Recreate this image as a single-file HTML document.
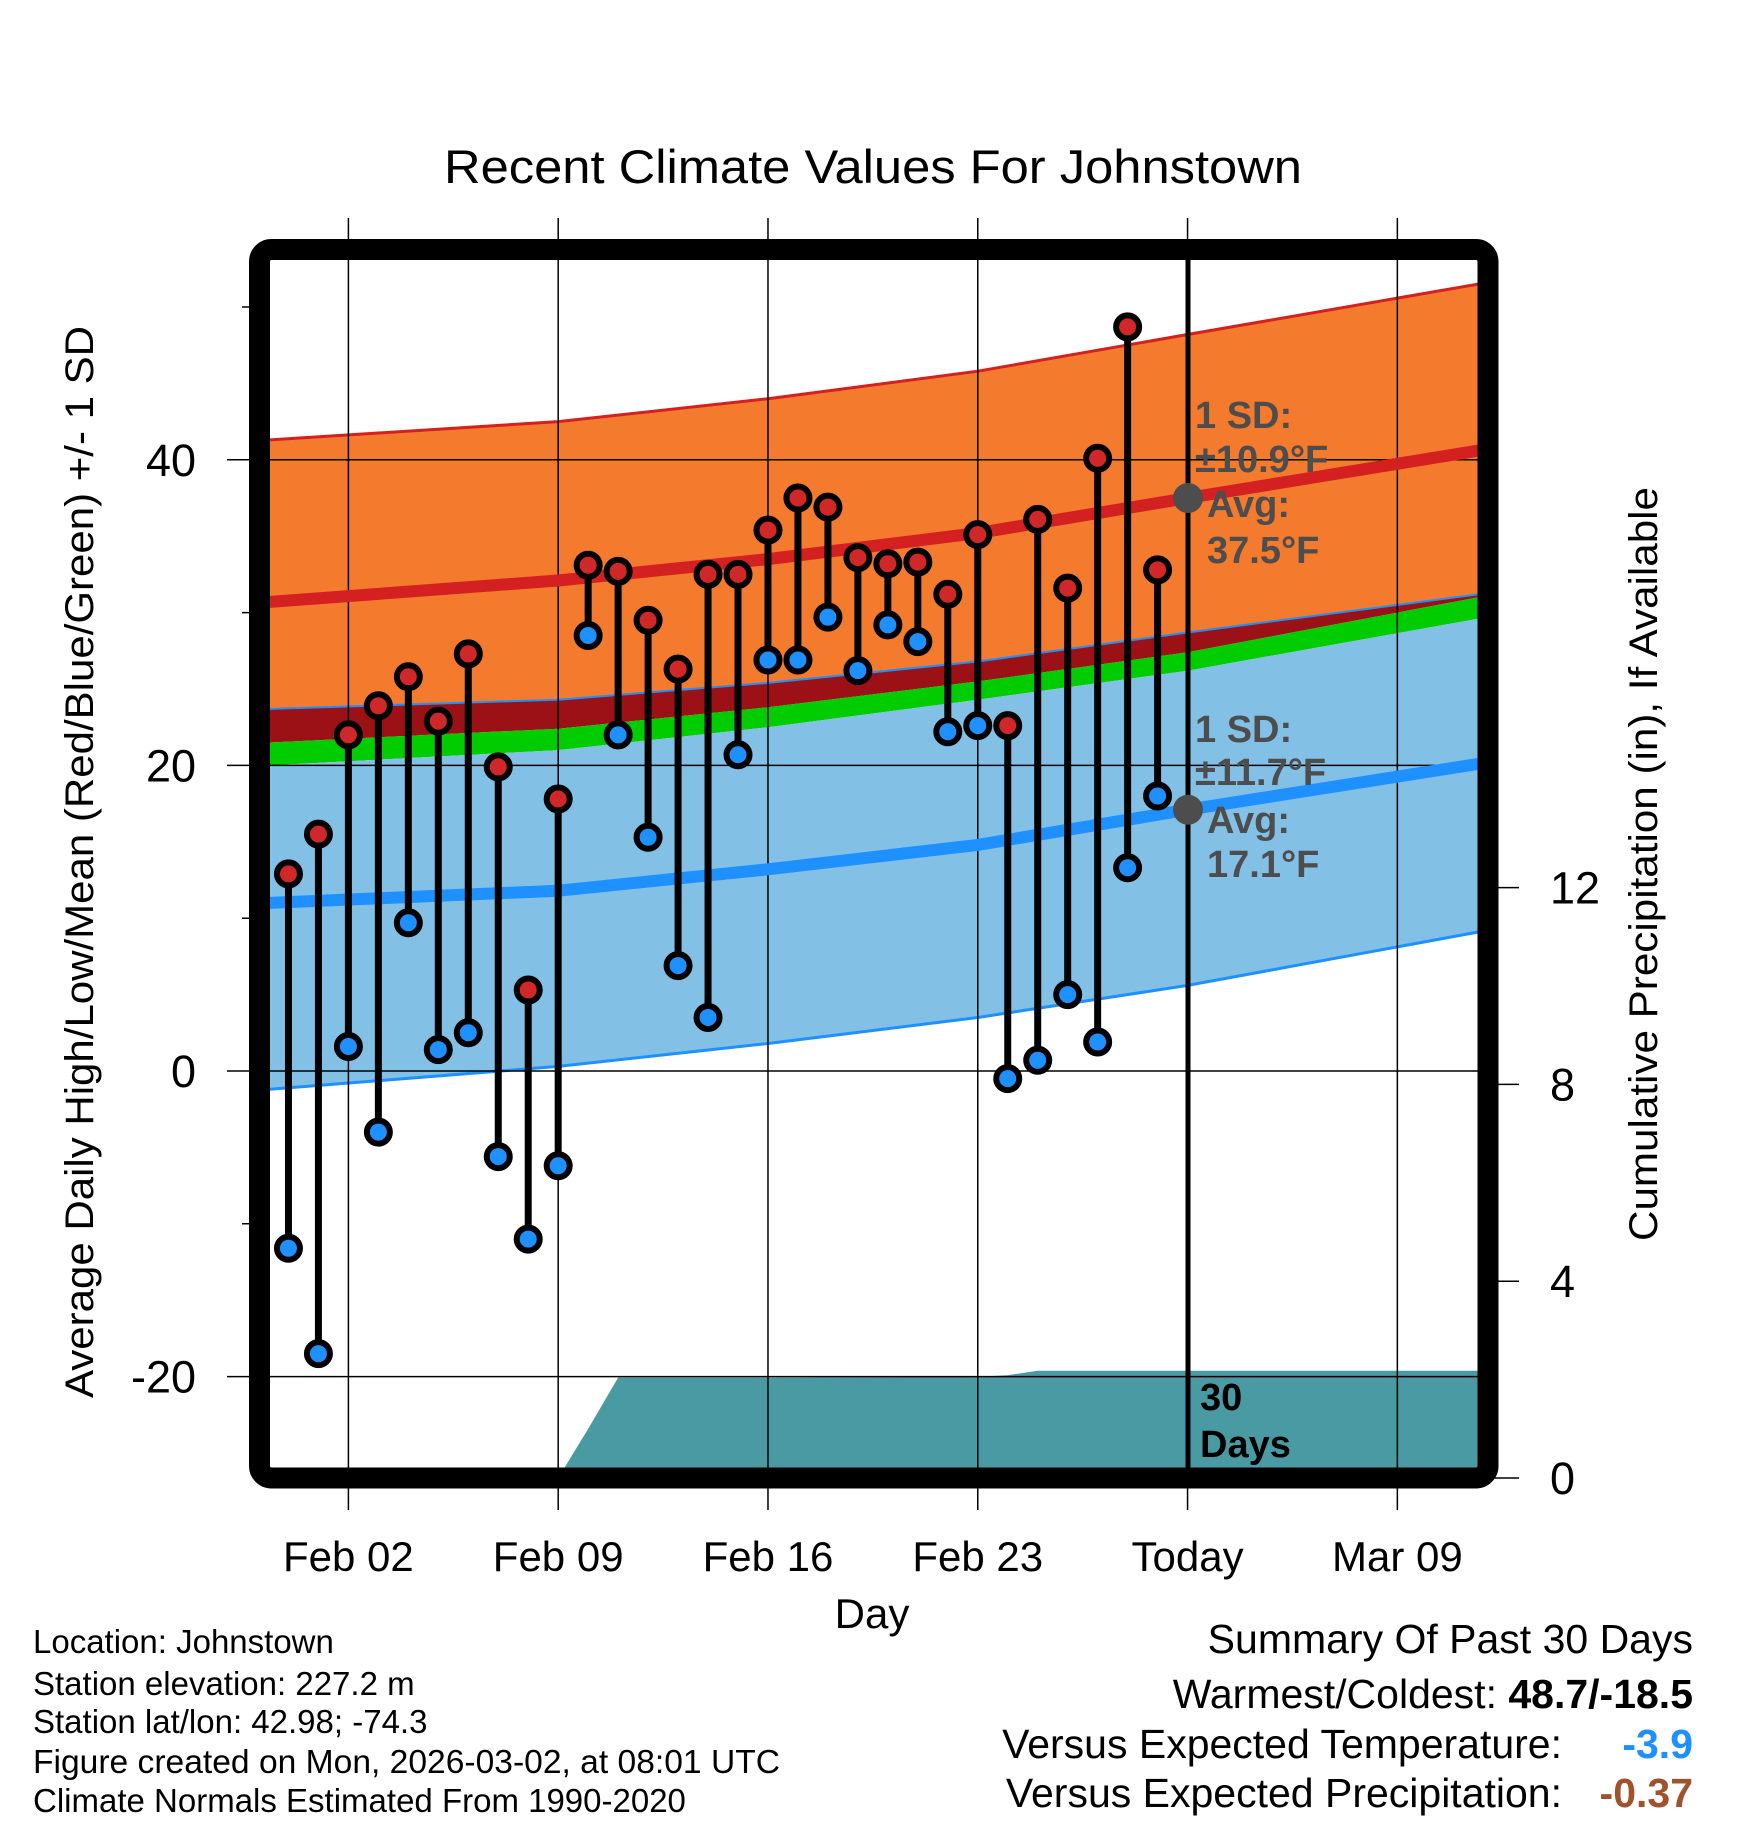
<!DOCTYPE html>
<html><head><meta charset="utf-8"><style>
html,body{margin:0;padding:0;background:#fff}
svg{display:block;font-family:"Liberation Sans",Arial,sans-serif}
</style></head><body>
<svg id="chart" width="1748" height="1828" viewBox="0 0 1748 1828" xmlns="http://www.w3.org/2000/svg">
<defs><clipPath id="plotclip"><rect x="270" y="260" width="1208" height="1208"/></clipPath></defs>
<g id="bands" clip-path="url(#plotclip)"></g>
<g id="grid"></g>
<g id="lines" clip-path="url(#plotclip)"></g>
<g id="marks"></g>
<line x1="1188" y1="260" x2="1188" y2="1468" stroke="#000" stroke-width="5"/>
<g id="annot"></g>
<rect x="259.5" y="249.5" width="1228.5" height="1228.5" rx="12" fill="none" stroke="#000" stroke-width="21"/>
<text x="873" y="183" text-anchor="middle" font-size="47" textLength="858" lengthAdjust="spacingAndGlyphs">Recent Climate Values For Johnstown</text>
<text x="872" y="1628" text-anchor="middle" font-size="42">Day</text>
<text transform="translate(93,862) rotate(-90)" text-anchor="middle" font-size="40" textLength="1072" lengthAdjust="spacingAndGlyphs">Average Daily High/Low/Mean (Red/Blue/Green) +/- 1 SD</text>
<text transform="translate(1657,864) rotate(-90)" text-anchor="middle" font-size="40" textLength="754" lengthAdjust="spacingAndGlyphs">Cumulative Precipitation (in), If Available</text>
<g font-size="33">
<text x="33" y="1653">Location: Johnstown</text>
<text x="33" y="1695">Station elevation: 227.2 m</text>
<text x="33" y="1733">Station lat/lon: 42.98; -74.3</text>
<text x="33" y="1773" textLength="747" lengthAdjust="spacingAndGlyphs">Figure created on Mon, 2026-03-02, at 08:01 UTC</text>
<text x="33" y="1812">Climate Normals Estimated From 1990-2020</text>
</g>
<g font-size="41">
<text x="1693" y="1653" text-anchor="end">Summary Of Past 30 Days</text>
<text x="1693" y="1708" text-anchor="end">Warmest/Coldest: <tspan font-weight="bold">48.7/-18.5</tspan></text>
<text x="1562" y="1758" text-anchor="end">Versus Expected Temperature:</text>
<text x="1693" y="1758" text-anchor="end" font-weight="bold" fill="#1e90ff">-3.9</text>
<text x="1562" y="1807" text-anchor="end">Versus Expected Precipitation:</text>
<text x="1693" y="1807" text-anchor="end" font-weight="bold" fill="#a0522d">-0.37</text>
</g>
</svg>
<script>
// ---- data ----
const days = [-1,0,1,2,3,4,5,6,7,8,9,10,11,12,13,14,15,16,17,18,19,20,21,22,23,24,25,26,27,28];
const highs = [12.9,15.5,22.0,23.9,25.8,22.9,27.3,19.9,5.3,17.8,33.1,32.7,29.5,26.3,32.5,32.5,35.4,37.5,36.9,33.6,33.2,33.3,31.2,35.1,22.6,36.1,31.6,40.1,48.7,32.8];
const lows = [-11.6,-18.5,1.6,-4.0,9.7,1.4,2.5,-5.6,-11.0,-6.2,28.5,22.0,15.3,6.9,3.5,20.7,26.9,26.9,29.7,26.2,29.2,28.1,22.2,22.6,-0.5,0.7,5.0,1.9,13.3,18.0];
const normDays = [-1.62,8,15,22,29,38.7];
const highTop = [41.3,42.5,44.0,45.8,48.2,51.5];
const highMean = [30.7,32.1,33.5,35.2,37.5,40.6];
const highBottom = [23.7,24.3,25.4,26.8,28.7,31.2];
const greenTop = [21.5,22.4,23.8,25.5,27.4,31.0];
const lowTop = [20.0,21.0,22.5,24.3,26.2,29.6];
const lowMean = [11.0,11.8,13.2,14.8,17.1,20.1];
const lowBottom = [-1.2,0.3,1.8,3.5,5.6,9.1];
const precipDays = [8,9,10,16,22,23,24,28,38.7];
const precipCum = [0,1.0,2.04,2.04,2.06,2.09,2.18,2.18,2.18];
const yTicks = [-20,0,20,40];
const yMinor = [-10,10,30,50];
const y2Ticks = [0,4,8,12];
const xTickDays = [1,8,15,22,29,36];
const xTickLabels = ["Feb 02","Feb 09","Feb 16","Feb 23","Today","Mar 09"];
// ---- axes ----
const X = d => 348.4 + 29.97*(d-1);
const Y = t => 1071 - 15.28*t;
const P = p => 1478 - 49.2*p;
const NS = "http://www.w3.org/2000/svg";
function mk(tag, attrs, parent){const e=document.createElementNS(NS,tag);for(const k in attrs)e.setAttribute(k,attrs[k]);parent.appendChild(e);return e;}
function pts(ds, vs, f){return ds.map((d,i)=>X(d).toFixed(1)+","+f(vs[i]).toFixed(1));}
function band(top, bot, fill, parent, name){
  const p = pts(normDays, top, Y).concat(pts(normDays, bot, Y).reverse());
  const e = mk('polygon',{points:p.join(' '),fill:fill},parent);
  
  
}
const bands = document.getElementById('bands');
band(highTop, highBottom, '#f47a2e', bands, 'high-sd-band');
band(highBottom, greenTop, '#9b1115', bands, 'overlap-band');
band(greenTop, lowTop, '#00cc00', bands, 'mean-band');
band(lowTop, lowBottom, '#82c0e6', bands, 'low-sd-band');
function pl(vs, color, w, parent, name){
  const e = mk('polyline',{points:pts(normDays, vs, Y).join(' '),fill:'none',stroke:color,'stroke-width':w,'stroke-linejoin':'round'},parent);
  
  
}
pl(highTop,'#d42020',3,bands,'high-sd-top-line');
pl(highBottom,'#1e90ff',2,bands,'high-sd-bottom-line');
pl(lowBottom,'#1e90ff',3,bands,'low-sd-bottom-line');
// precip
{
  const p = pts(precipDays, precipCum, P);
  p.push(X(precipDays[precipDays.length-1]).toFixed(1)+","+P(0));
  p.push(X(precipDays[0]).toFixed(1)+","+P(0));
  const e = mk('polygon',{points:p.join(' '),fill:'#4a9aa3'},bands);
  
  
}
// grid
const grid = document.getElementById('grid');
yTicks.forEach(t=>{
  const l = mk('line',{x1:227,x2:1478,y1:Y(t),y2:Y(t),stroke:'#000','stroke-width':1.5},grid);
  
  
  const tx = mk('text',{x:196,y:Y(t)+16,'text-anchor':'end','font-size':45},grid);
  tx.textContent = t;
  
  
});
yMinor.forEach(t=>{
  const l = mk('line',{x1:242,x2:260,y1:Y(t),y2:Y(t),stroke:'#000','stroke-width':1.5},grid);
  
  
});
y2Ticks.forEach(p=>{
  const l = mk('line',{x1:1488,x2:1519,y1:P(p),y2:P(p),stroke:'#000','stroke-width':1.5},grid);
  
  
  const tx = mk('text',{x:1550,y:P(p)+16,'font-size':45},grid);
  tx.textContent = p;
  
  
});
xTickDays.forEach((d,i)=>{
  const l = mk('line',{x1:X(d),x2:X(d),y1:218,y2:1510,stroke:'#000','stroke-width':1.5},grid);
  
  
  const tx = mk('text',{x:X(d),y:1571,'text-anchor':'middle','font-size':42},grid);
  tx.textContent = xTickLabels[i];
  
  
});
// avg lines
const lines = document.getElementById('lines');
pl(highMean,'#d42020',12,lines,'avg-high-line');
pl(lowMean,'#1e90ff',12,lines,'avg-low-line');
// marks
const marks = document.getElementById('marks');
days.forEach((d,i)=>{
  const x = X(d);
  const s = mk('line',{x1:x,x2:x,y1:Y(highs[i]),y2:Y(lows[i]),stroke:'#000','stroke-width':7},marks);
  
  
  const h = mk('circle',{cx:x,cy:Y(highs[i]),r:11.5,fill:'#d02828',stroke:'#000','stroke-width':6},marks);
  
  
  const lo = mk('circle',{cx:x,cy:Y(lows[i]),r:11.5,fill:'#1e90ff',stroke:'#000','stroke-width':6},marks);
  
  
});
// annotations
const an = document.getElementById('annot');
function txt(x,y,s,name,size,col){
  const t = mk('text',{x:x,y:y,'font-size':size||38,'font-weight':'bold',fill:col||'#4d4d4d'},an);
  t.textContent = s;
  
  
}
const c1 = mk('circle',{cx:1188,cy:Y(37.5),r:15,fill:'#4d4d4d'},an);


const c2 = mk('circle',{cx:1188,cy:Y(17.1),r:15,fill:'#4d4d4d'},an);


txt(1195,428,'1 SD:','high-sd-label');
txt(1195,472,'±10.9°F','high-sd-value');
txt(1207,517,'Avg:','high-avg-label');
txt(1207,563,'37.5°F','high-avg-value');
txt(1195,742,'1 SD:','low-sd-label');
txt(1195,785,'±11.7°F','low-sd-value');
txt(1207,833,'Avg:','low-avg-label');
txt(1207,877,'17.1°F','low-avg-value');
txt(1200,1410,'30','days-count',38,'#000');
txt(1200,1457,'Days','days-label',38,'#000');
</script>
</body></html>
